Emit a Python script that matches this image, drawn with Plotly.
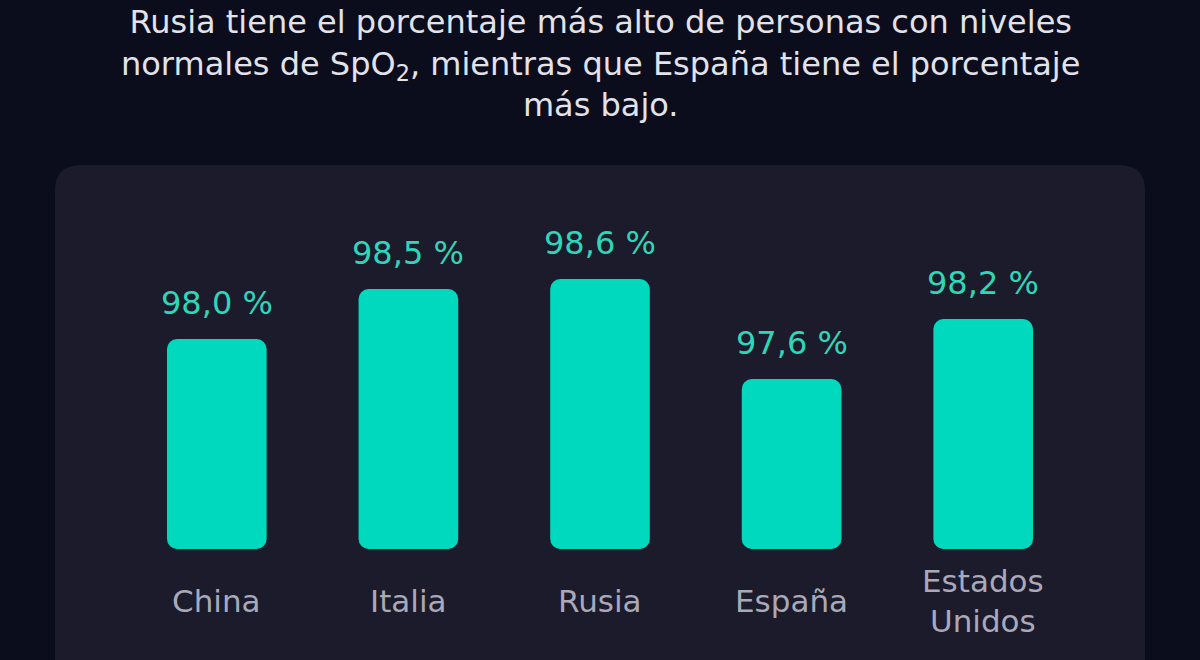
import plotly.graph_objects as go

# Datos (% con niveles normales de SpO2)
paises = ["China", "Italia", "Rusia", "España", "Estados<br>Unidos"]
valores = [98.0, 98.5, 98.6, 97.6, 98.2]
etiquetas = ["98,0 %", "98,5 %", "98,6 %", "97,6 %", "98,2 %"]

BASE = 95.9
W, H = 1200, 660
ML, MR, MT, MB = 121, 121, 170, 111
pw, ph = W - ML - MR, H - MT - MB

fondo = "#0b0c1c"
panel = "#1b1b2b"
verde = "#00d9bd"
texto_verde = "#2fd6b9"
gris = "#a9a9b9"
fuente = "DejaVu Sans"


def px_to_paper(x, y):
    return (x - ML) / pw, (H - MB - y) / ph


def P(x, y):
    a, b = px_to_paper(x, y)
    return f"{a:.4f},{b:.4f}"


# panel redondeado de fondo
x0, y0, x1, y1, r = 55, 165, 1145, 720, 26
path = (f"M {P(x0, y1)} L {P(x0, y0 + r)} Q {P(x0, y0)} {P(x0 + r, y0)} "
        f"L {P(x1 - r, y0)} Q {P(x1, y0)} {P(x1, y0 + r)} L {P(x1, y1)} Z")

fig = go.Figure()
fig.add_trace(go.Bar(
    x=paises,
    y=[v - BASE for v in valores],
    base=BASE,
    marker=dict(color=verde, cornerradius=10, line_width=0),
    width=0.52,
    hoverinfo="skip",
))

for p, v, t in zip(paises, valores, etiquetas):
    fig.add_annotation(x=p, y=v, text=t, showarrow=False, yanchor="bottom",
                       yshift=15, font=dict(family=fuente, size=32, color=texto_verde))
    # nombre del país bajo la barra
    fig.add_annotation(x=p, yref="paper", y=px_to_paper(0, 601)[1], text=p,
                       showarrow=False, yanchor="middle",
                       font=dict(family=fuente, size=31, color=gris))

fig.add_annotation(
    xref="paper", yref="paper", x=0.5, y=px_to_paper(600, 1)[1], yanchor="top",
    text=("Rusia tiene el porcentaje más alto de personas con niveles<br>"
          "normales de SpO<sub>2</sub>, mientras que España tiene el porcentaje<br>"
          "más bajo."),
    showarrow=False, align="center",
    font=dict(family=fuente, size=32, color="#e2e2ea"),
)

fig.update_layout(
    width=W, height=H,
    paper_bgcolor=fondo, plot_bgcolor="rgba(0,0,0,0)",
    margin=dict(l=ML, r=MR, t=MT, b=MB, autoexpand=False),
    showlegend=False,
    shapes=[dict(type="path", path=path, xref="paper", yref="paper",
                 fillcolor=panel, line_width=0, layer="below")],
    xaxis=dict(showgrid=False, zeroline=False, showline=False, ticks="",
               showticklabels=False, automargin=False),
    yaxis=dict(visible=False, range=[BASE, BASE + ph / 100]),
)

fig.write_html("out.html",
               config={"displayModeBar": False},
               post_script="document.body.style.margin='0';"
                           "document.body.style.background='#0b0c1c';")
